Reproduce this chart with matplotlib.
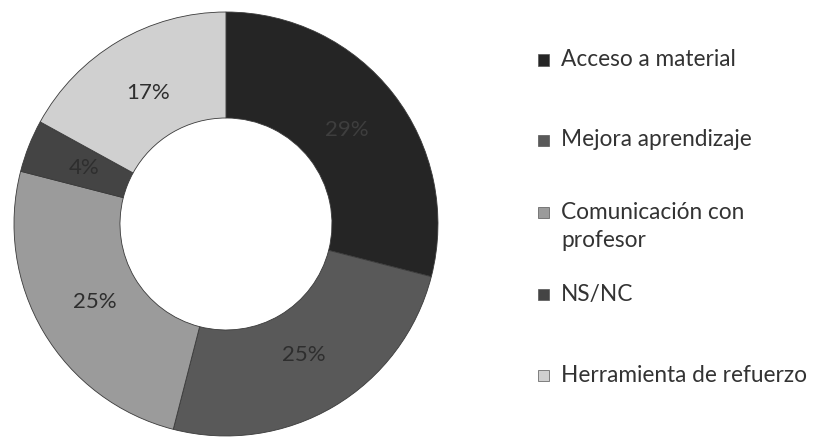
import matplotlib.pyplot as plt
from matplotlib.patches import Rectangle

plt.rcParams['font.family'] = ['Lato', 'DejaVu Sans']

# Data
labels = ['Acceso a material', 'Mejora aprendizaje', 'Comunicación con\nprofesor',
          'NS/NC', 'Herramienta de refuerzo']
values = [29, 25, 25, 4, 17]
colors = ['#252525', '#595959', '#9b9b9b', '#444444', '#d0d0d0']

fig = plt.figure(figsize=(8.13, 4.38), dpi=100)
ax = fig.add_axes([0.0172, 0.0046, 0.5215, 0.968])

wedges, texts, autotexts = ax.pie(values, colors=colors, startangle=90, counterclock=False,
                                  autopct='%d%%', pctdistance=0.72,
                                  wedgeprops=dict(width=0.5, edgecolor='#3a3a3a', linewidth=0.6),
                                  textprops=dict(fontsize=16, color='#2e2e2e'))
autotexts[0].set_color('#3e3e3e')
ax.set_xlim(-1, 1)
ax.set_ylim(-1, 1)
ax.set_aspect('equal')

# Legend drawn by hand to keep the uneven spacing
legend_y = [378, 298, 225, 144, 63]  # pixel rows from bottom (first line of each entry)
for lab, col, y in zip(labels, colors, legend_y):
    fig.patches.append(Rectangle((538 / 813, (y - 5.5) / 438), 11 / 813, 11 / 438,
                                 transform=fig.transFigure, facecolor=col,
                                 edgecolor='#555555', linewidth=0.5))
    ty = y - 13.5 if '\n' in lab else y
    fig.text(561 / 813, ty / 438, lab, fontsize=16.3, color='#333333',
             va='center', ha='left', linespacing=1.45)

fig.savefig('out.png', dpi=100)
